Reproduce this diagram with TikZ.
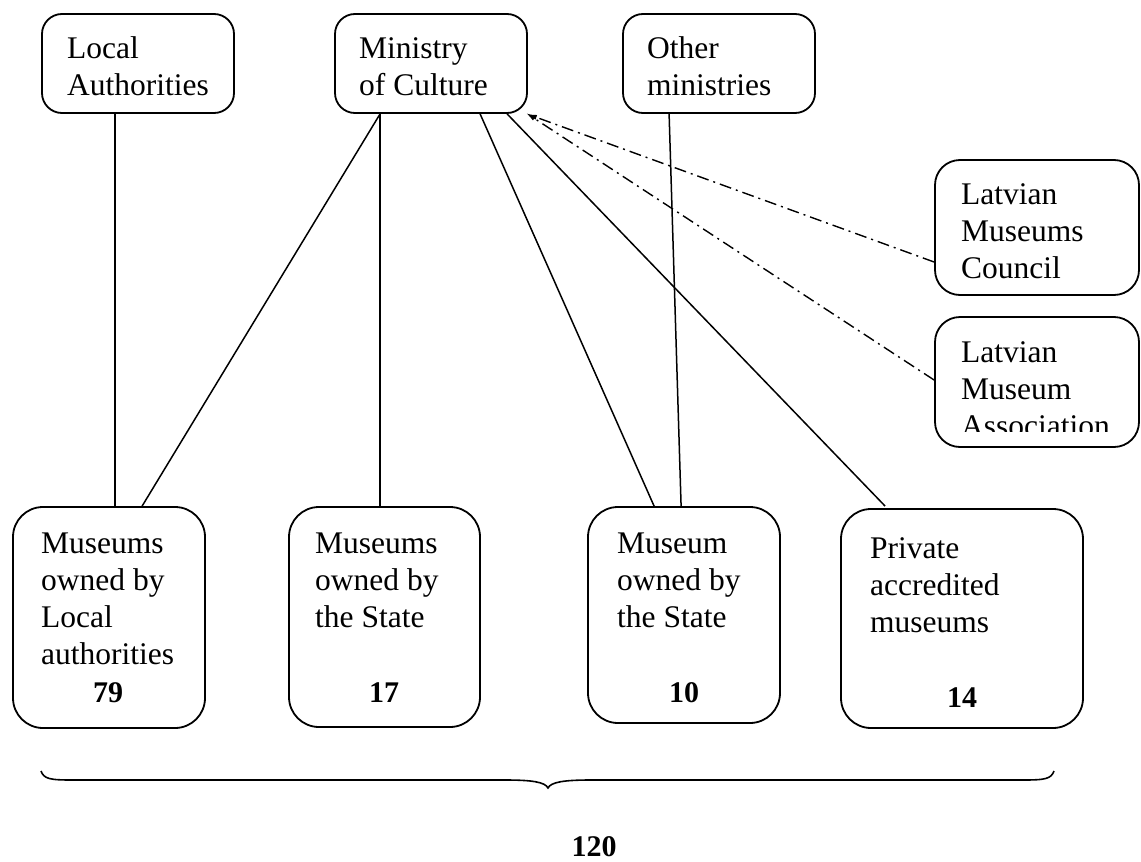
\documentclass[tikz,border=0pt]{standalone}
\usepackage{fontspec}
\setmainfont{Liberation Serif}
\usetikzlibrary{arrows.meta}
\begin{document}
\begin{tikzpicture}[x=1pt,y=-1pt,
  every node/.style={font=\fontsize{31.5}{37}\selectfont},
  boxnode/.style={draw, line width=1.8pt, rounded corners=#1, inner sep=0pt},
  txt/.style={anchor=base west, inner sep=0pt},
  num/.style={anchor=base, inner sep=0pt, font=\fontsize{30}{36}\selectfont\bfseries},
  link/.style={line width=1.5pt},
  dlink/.style={line width=1.4pt, dash pattern=on 12pt off 5pt on 2pt off 5pt, -{Latex[length=10pt,width=5pt]}}]
\useasboundingbox (0,0) rectangle (1141,862);

% top boxes
\node[boxnode=20pt, minimum width=192pt, minimum height=99pt] (la) at (138,63.5) {};
\node[boxnode=20pt, minimum width=192pt, minimum height=99pt] (mc) at (431,63.5) {};
\node[boxnode=20pt, minimum width=192pt, minimum height=99pt] (om) at (719,63.5) {};
\node[txt] (latxt) at (67,58) {\parbox[t]{300pt}{Local\\Authorities}};
\node[txt] (mctxt) at (359,58) {\parbox[t]{300pt}{Ministry\\of Culture}};
\node[txt] (omtxt) at (647,58) {\parbox[t]{300pt}{Other\\ministries}};

% right boxes
\node[boxnode=25pt, minimum width=204pt, minimum height=135pt] (lmc) at (1037,227.5) {};
\node[boxnode=25pt, minimum width=204pt, minimum height=130pt] (lma) at (1037,382) {};
\node[txt] (lmctxt) at (961,204) {\parbox[t]{300pt}{Latvian\\Museums\\Council}};
\begin{scope}
\clip (935,317) rectangle (1141,431);
\node[txt] (lmatxt) at (961,362) {\parbox[t]{300pt}{Latvian\\Museum\\Association}};
\end{scope}

% bottom boxes
\node[boxnode=30pt, minimum width=192pt, minimum height=221pt] (b1) at (109,617.5) {};
\node[boxnode=30pt, minimum width=191pt, minimum height=220pt] (b2) at (384.5,617) {};
\node[boxnode=30pt, minimum width=192pt, minimum height=216pt] (b3) at (684,615) {};
\node[boxnode=30pt, minimum width=242pt, minimum height=219pt] (b4) at (962,618.5) {};
\node[txt] (b1txt) at (41,553) {\parbox[t]{300pt}{Museums\\owned by\\Local\\authorities}};
\node[txt] (b2txt) at (315,553) {\parbox[t]{300pt}{Museums\\owned by\\the State}};
\node[txt] (b3txt) at (617,553) {\parbox[t]{300pt}{Museum\\owned by\\the State}};
\node[txt] (b4txt) at (870,558) {\parbox[t]{300pt}{Private\\accredited\\museums}};
\node[num] (n1) at (108,702) {79};
\node[num] (n2) at (384,702) {17};
\node[num] (n3) at (684,702) {10};
\node[num] (n4) at (962,707) {14};

% connectors
\draw[link] ([xshift=74pt]la.south west) -- ([xshift=103pt]b1.north west);
\draw[link] ([xshift=46pt]mc.south west) -- ([xshift=130pt]b1.north west);
\draw[link] ([xshift=46pt]mc.south west) -- ([xshift=92pt]b2.north west);
\draw[link] ([xshift=146pt]mc.south west) -- ([xshift=67pt]b3.north west);
\draw[link] ([xshift=47pt]om.south west) -- ([xshift=94pt]b3.north west);
\draw[link] ([xshift=173pt]mc.south west) -- ([xshift=45pt,yshift=2pt]b4.north west);
\draw[dlink] ([yshift=-34.5pt]lmc.west) -- ([xshift=-1pt]mc.south east);
\draw[dlink] ([yshift=2pt]lma.west) -- ([xshift=-2pt,yshift=1pt]mc.south east);

% brace and total
\draw[line width=1.6pt] (41,771) .. controls (44,779) and (50,780) .. (72,780)
  -- (505,780) .. controls (532,780) and (545,782) .. (548,788)
  .. controls (551,782) and (564,780) .. (591,780)
  -- (1023,780) .. controls (1045,780) and (1051,779) .. (1054,771);
\node[num] (total) at (594,856) {120};
\end{tikzpicture}
\end{document}
